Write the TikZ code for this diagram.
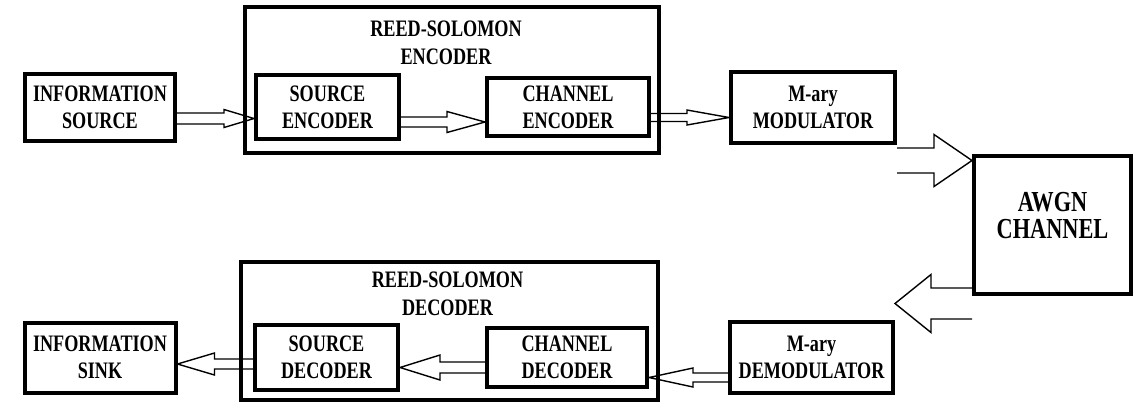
\documentclass[tikz,border=0pt]{standalone}
\usepackage{fontspec}
\usepackage{tikz}
\usetikzlibrary{positioning,calc}
\newfontfamily\diagfont[FakeStretch=0.77]{Liberation Serif}
% hollow block arrow: from, to, y, shaft half width, head half width, head length
\newcommand{\hollowarr}[6]{%
  \draw[harr] let \p1=(#1), \p2=(#2), \p3=(0,#3), \n1={sign(\x2-\x1)} in
    (\x1,{\y3+#4}) -- ({\x2-(\n1)*#6},{\y3+#4}) -- ({\x2-(\n1)*#6},{\y3+#5}) -- (\x2,\y3)
    -- ({\x2-(\n1)*#6},{\y3-#5}) -- ({\x2-(\n1)*#6},{\y3-#4}) -- (\x1,{\y3-#4});}

\begin{document}
\begin{tikzpicture}[x=0.5pt,y=-0.5pt,
      every node/.style={align=center,font=\diagfont\bfseries\fontsize{11.8}{13.5}\selectfont},
      blk/.style={draw,line width=2pt,inner sep=0pt},
      grp/.style={draw,line width=2pt,inner sep=0pt},
      ttl/.style={anchor=north,inner sep=0pt,
                  font=\diagfont\bfseries\fontsize{11.8}{14}\selectfont},
      harr/.style={line width=0.7pt,line join=miter}
    ]
      \useasboundingbox (0,0) rectangle (1134,419);
      % groups
      \node[grp,minimum width=207pt,minimum height=73pt,
            label={[ttl,xshift=-3pt,yshift=-7.5pt]north:REED-SOLOMON\\ENCODER}] (rse) at (452,80) {};
      \node[grp,minimum width=208.5pt,minimum height=69pt,
            label={[ttl,xshift=-1pt,yshift=-5.5pt]north:REED-SOLOMON\\DECODER}] (rsd) at (449.5,331) {};
      % transmitter
      \node[blk,minimum width=75pt,minimum height=33.5pt] (is) at (100,107) {INFORMATION\\SOURCE};
      \node[blk,minimum width=71.5pt,minimum height=32pt,right=38.5pt of is] (se) {SOURCE\\ENCODER};
      \node[blk,minimum width=81pt,minimum height=29pt,right=42pt of se] (ce) {CHANNEL\\ENCODER};
      \node[blk,minimum width=82pt,minimum height=35.5pt,right=39pt of ce] (mod) {M-ary\\MODULATOR};
      % channel
      \node[blk,minimum width=78.5pt,minimum height=69pt,text depth=10pt,
            font=\diagfont\bfseries\fontsize{14.5}{13.5}\selectfont] (awgn) at (1052.5,225) {AWGN\\CHANNEL};
      % receiver
      \node[blk,minimum width=75.5pt,minimum height=35pt,below=89pt of is] (sink) {INFORMATION\\SINK};
      \node[blk,minimum width=71.5pt,minimum height=32.5pt,right=37.75pt of sink] (sd) {SOURCE\\DECODER};
      \node[blk,minimum width=80pt,minimum height=29.5pt,right=42.5pt of sd] (cd) {CHANNEL\\DECODER};
      \node[blk,minimum width=81.5pt,minimum height=35.5pt,right=39.5pt of cd] (dem) {M-ary\\DEMODULATOR};
      % arrows
      \hollowarr{is.east}{se.west}{118.5}{2.75pt}{4.5pt}{15pt}
      \hollowarr{se.east}{ce.west}{122}{2.5pt}{5.25pt}{19pt}
      \hollowarr{ce.east}{mod.west}{117.5}{2pt}{3.75pt}{21pt}
      \hollowarr{mod.east}{awgn.west}{160.5}{6.25pt}{13pt}{19pt}
      \hollowarr{awgn.west}{dem.east}{303.5}{7.75pt}{14.5pt}{18pt}
      \hollowarr{dem.west}{cd.east}{377.5}{2.25pt}{4.75pt}{22pt}
      \hollowarr{cd.west}{sd.east}{367.5}{2.75pt}{6.25pt}{20pt}
      \hollowarr{sd.west}{sink.east}{364}{2.5pt}{5.5pt}{18.5pt}
    \end{tikzpicture}
\end{document}
